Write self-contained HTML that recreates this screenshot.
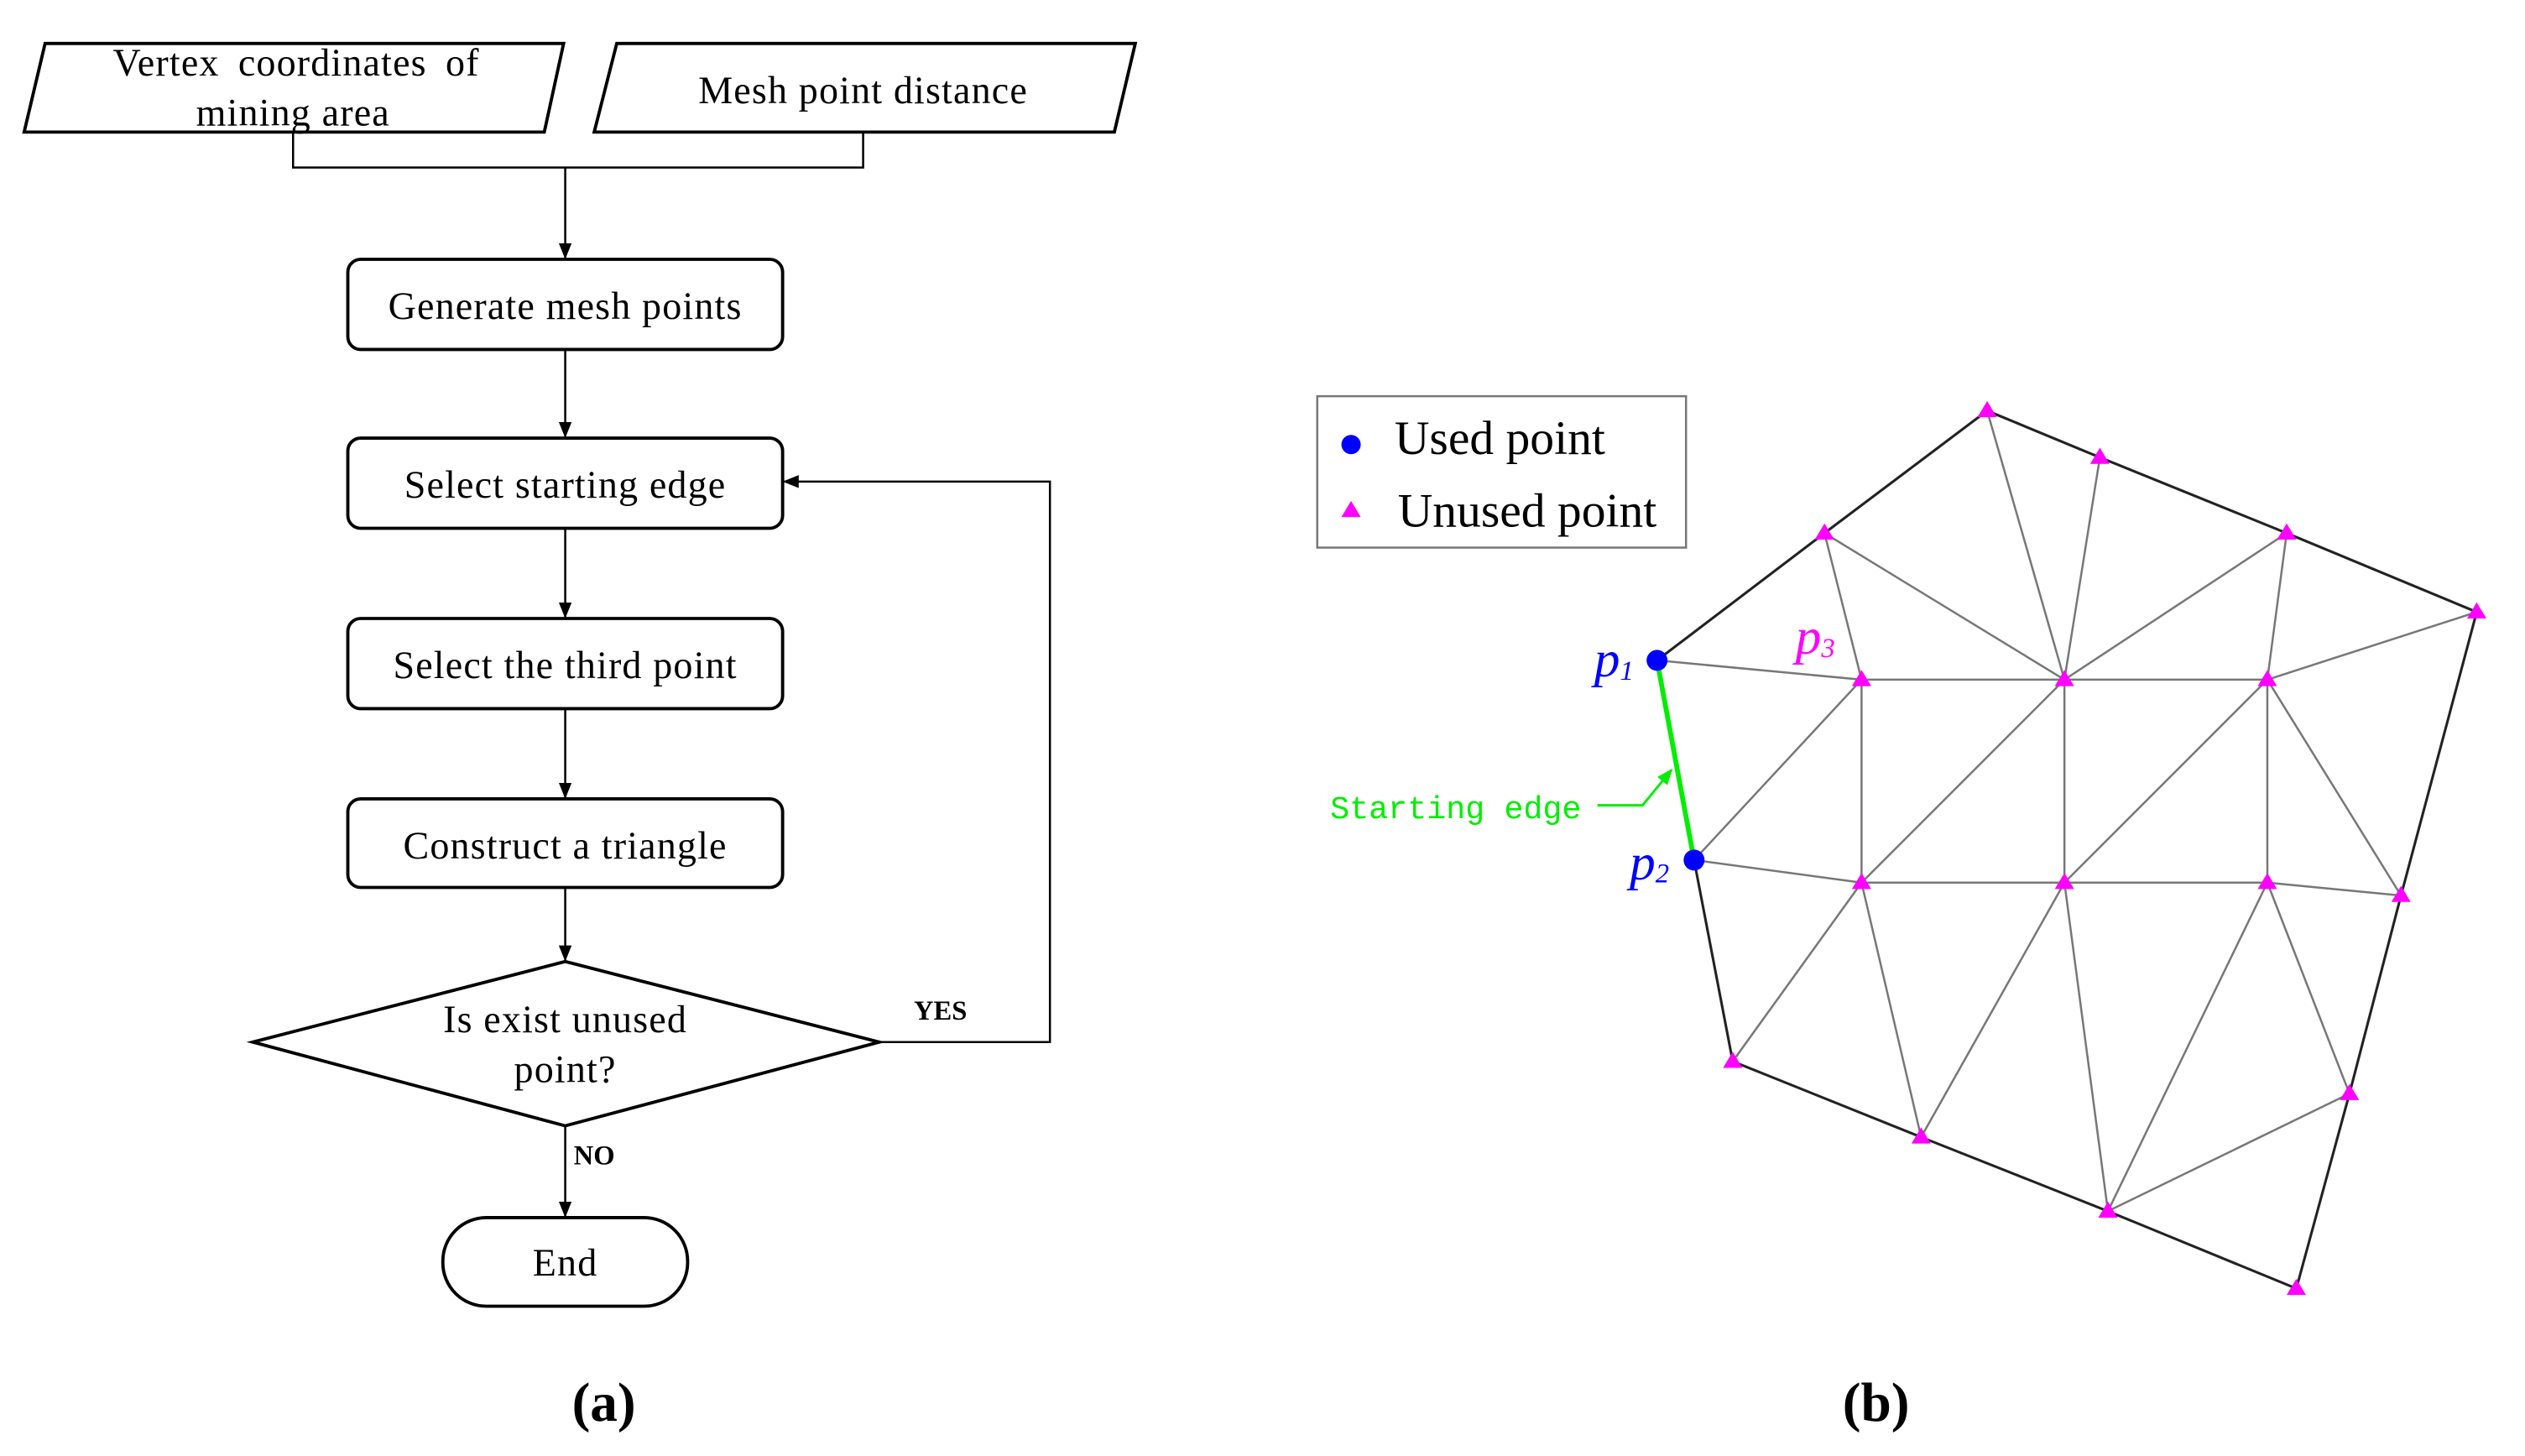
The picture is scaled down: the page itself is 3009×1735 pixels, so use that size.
<!DOCTYPE html>
<html><head><meta charset="utf-8"><style>html,body{margin:0;padding:0;background:#fff}svg{display:block}</style></head>
<body>
<svg width="3009" height="1735" viewBox="0 0 1568 904" preserveAspectRatio="none" xmlns="http://www.w3.org/2000/svg">
<defs>
<marker id="ar" markerWidth="10" markerHeight="10" refX="9" refY="5" orient="auto" markerUnits="userSpaceOnUse"><path d="M0,1 L10,5 L0,9 z" fill="#000"/></marker>
<marker id="ag" markerWidth="10" markerHeight="10" refX="9" refY="5" orient="auto" markerUnits="userSpaceOnUse"><path d="M0,1 L10,5 L0,9 z" fill="#0e0"/></marker>
</defs>
<rect width="1568" height="904" fill="#fff"/>
<g font-family="Liberation Serif, serif" font-size="24" text-anchor="middle" fill="#000" letter-spacing="0.6">
<g fill="none" stroke="#000" stroke-width="2">
<polygon points="28,27 350,27 338,82 15,82"/>
<polygon points="383,27 705,27 692,82 369,82"/>
<polyline points="182,82 182,104 536,104 536,82" stroke-width="1.3"/>
<line x1="351" y1="104" x2="351" y2="160" stroke-width="1.3" marker-end="url(#ar)"/>
<rect x="216" y="161" width="270" height="56" rx="8"/>
<line x1="351" y1="217" x2="351" y2="271" stroke-width="1.3" marker-end="url(#ar)"/>
<rect x="216" y="272" width="270" height="56" rx="8"/>
<line x1="351" y1="328" x2="351" y2="383" stroke-width="1.3" marker-end="url(#ar)"/>
<rect x="216" y="384" width="270" height="56" rx="8"/>
<line x1="351" y1="440" x2="351" y2="495" stroke-width="1.3" marker-end="url(#ar)"/>
<rect x="216" y="496" width="270" height="55" rx="8"/>
<line x1="351" y1="551" x2="351" y2="596" stroke-width="1.3" marker-end="url(#ar)"/>
<polygon points="157,647 351,597 546,647 351,699"/>
<polyline points="546,647 652,647 652,299 487,299" stroke-width="1.3" marker-end="url(#ar)"/>
<line x1="351" y1="699" x2="351" y2="755" stroke-width="1.3" marker-end="url(#ar)"/>
<rect x="275" y="756" width="152" height="55" rx="27"/>
</g>
<text x="184" y="47" word-spacing="5">Vertex coordinates of</text>
<text x="182" y="78">mining area</text>
<text x="536" y="64">Mesh point distance</text>
<text x="351" y="198">Generate mesh points</text>
<text x="351" y="309">Select starting edge</text>
<text x="351" y="421">Select the third point</text>
<text x="351" y="533">Construct a triangle</text>
<text x="351" y="641">Is exist unused</text>
<text x="351" y="672">point?</text>
<text x="351" y="792">End</text>
<text x="584" y="633" font-size="17" font-weight="bold" letter-spacing="0">YES</text>
<text x="369" y="723" font-size="17" font-weight="bold" letter-spacing="0">NO</text>
<text x="375" y="882" font-size="34" font-weight="bold" letter-spacing="0">(a)</text>
<text x="1165" y="882" font-size="34" font-weight="bold" letter-spacing="0">(b)</text>
</g>
<g stroke="#777" stroke-width="1.3" fill="none">
<line x1="1133" y1="331" x2="1282" y2="422"/>
<line x1="1234" y1="255" x2="1282" y2="422"/>
<line x1="1304" y1="284" x2="1282" y2="422"/>
<line x1="1420" y1="331" x2="1282" y2="422"/>
<line x1="1420" y1="331" x2="1408" y2="422"/>
<line x1="1538" y1="380" x2="1408" y2="422"/>
<line x1="1029" y1="410" x2="1156" y2="422"/>
<line x1="1156" y1="422" x2="1408" y2="422"/>
<line x1="1133" y1="331" x2="1156" y2="422"/>
<line x1="1156" y1="422" x2="1156" y2="548"/>
<line x1="1156" y1="422" x2="1052" y2="534"/>
<line x1="1282" y1="422" x2="1156" y2="548"/>
<line x1="1282" y1="422" x2="1282" y2="548"/>
<line x1="1408" y1="422" x2="1282" y2="548"/>
<line x1="1408" y1="422" x2="1408" y2="548"/>
<line x1="1408" y1="422" x2="1491" y2="556"/>
<line x1="1408" y1="548" x2="1491" y2="556"/>
<line x1="1052" y1="534" x2="1156" y2="548"/>
<line x1="1156" y1="548" x2="1408" y2="548"/>
<line x1="1156" y1="548" x2="1076" y2="659"/>
<line x1="1156" y1="548" x2="1193" y2="706"/>
<line x1="1282" y1="548" x2="1193" y2="706"/>
<line x1="1282" y1="548" x2="1309" y2="752"/>
<line x1="1408" y1="548" x2="1309" y2="752"/>
<line x1="1408" y1="548" x2="1459" y2="679"/>
<line x1="1459" y1="679" x2="1309" y2="752"/>
</g>
<polyline points="1052,534 1076,659 1193,706 1309,752 1426,800 1459,679 1491,556 1538,380 1420,331 1304,284 1234,255 1133,331 1029,410" fill="none" stroke="#222" stroke-width="1.6"/>
<line x1="1029" y1="410" x2="1052" y2="534" stroke="#0e0" stroke-width="3"/>
<polyline points="992,500 1020,500 1038,478" fill="none" stroke="#0e0" stroke-width="1.5" marker-end="url(#ag)"/>
<text x="826" y="508" font-family="Liberation Mono, monospace" font-size="20" fill="#0e0">Starting edge</text>
<g fill="#f0f">
<path d="M1234,249 l6,10 h-12z"/><path d="M1304,278 l6,10 h-12z"/><path d="M1420,325 l6,10 h-12z"/>
<path d="M1538,374 l6,10 h-12z"/><path d="M1133,325 l6,10 h-12z"/><path d="M1156,416 l6,10 h-12z"/>
<path d="M1282,416 l6,10 h-12z"/><path d="M1408,416 l6,10 h-12z"/><path d="M1156,542 l6,10 h-12z"/>
<path d="M1282,542 l6,10 h-12z"/><path d="M1408,542 l6,10 h-12z"/><path d="M1491,550 l6,10 h-12z"/>
<path d="M1076,653 l6,10 h-12z"/><path d="M1193,700 l6,10 h-12z"/><path d="M1459,673 l6,10 h-12z"/>
<path d="M1309,746 l6,10 h-12z"/><path d="M1426,794 l6,10 h-12z"/>
<path d="M839,311 l6,10 h-12z"/>
</g>
<circle cx="1029" cy="410" r="6.5" fill="#00f"/>
<circle cx="1052" cy="534" r="6.5" fill="#00f"/>
<circle cx="839" cy="276" r="6" fill="#00f"/>
<rect x="818" y="246" width="229" height="94" fill="none" stroke="#777" stroke-width="1.3"/>
<g font-family="Liberation Serif, serif" font-size="30" fill="#000">
<text x="866" y="282">Used point</text>
<text x="868" y="327">Unused point</text>
</g>
<g font-family="Liberation Serif, serif" font-style="italic" font-size="32">
<text x="990" y="420" fill="#00f">p<tspan font-size="17" dy="2">1</tspan></text>
<text x="1012" y="546" fill="#00f">p<tspan font-size="17" dy="2">2</tspan></text>
<text x="1115" y="406" fill="#f0f">p<tspan font-size="17" dy="2">3</tspan></text>
</g>
</svg>
</body></html>
